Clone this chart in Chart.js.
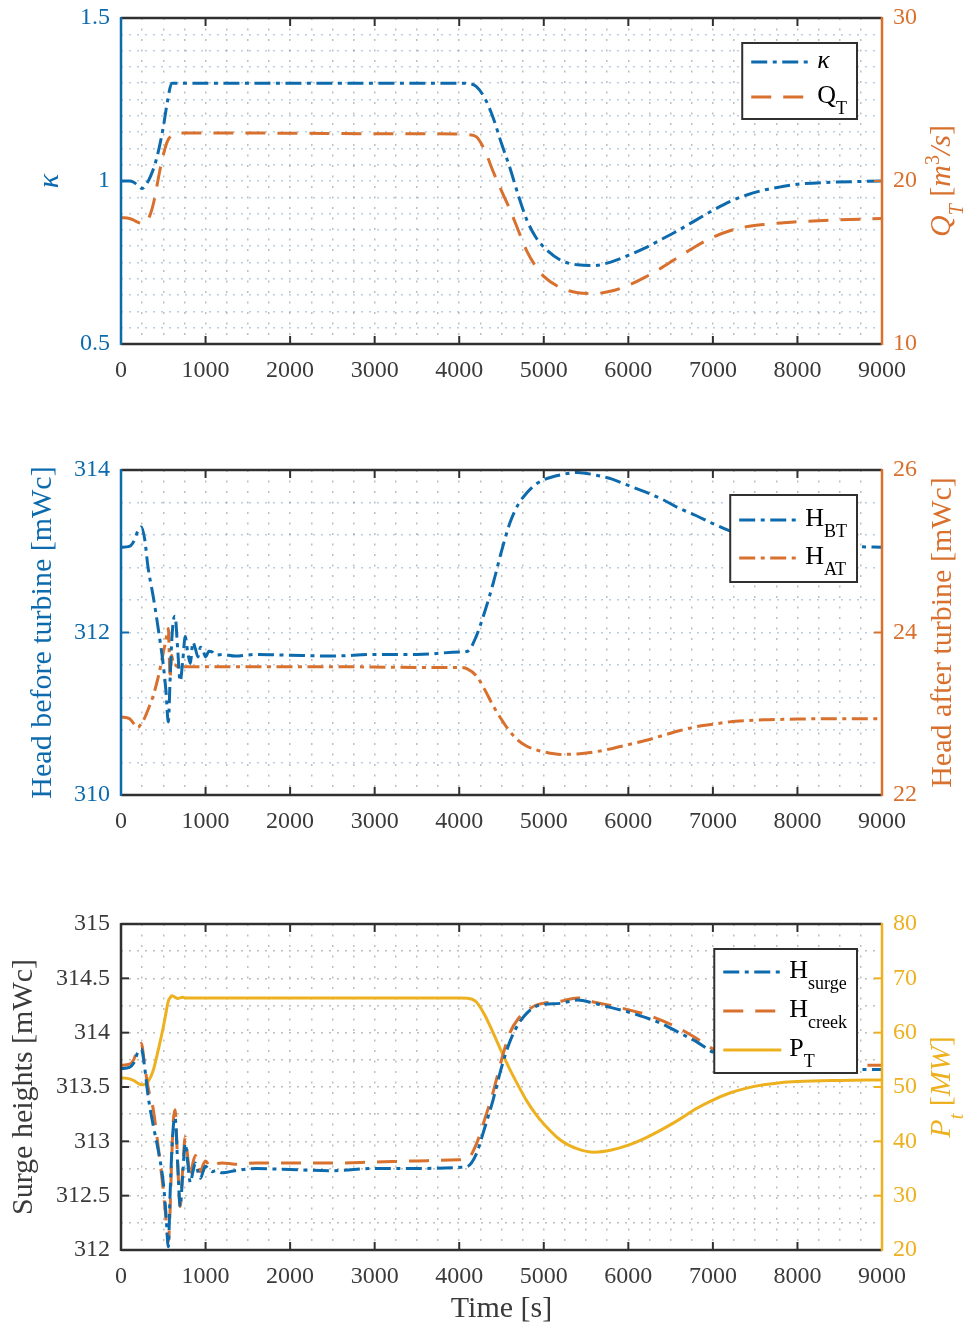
<!DOCTYPE html>
<html lang="en">
<head>
<meta charset="utf-8">
<title>Turbine transient</title>
<script src="https://cdn.jsdelivr.net/npm/chart.js@4.4.1/dist/chart.umd.min.js"></script>
<style>
  html, body { margin: 0; padding: 0; background: #ffffff; }
  body { position: relative; width: 964px; height: 1328px; overflow: hidden; }
  canvas { position: absolute; left: 0; }
</style>
</head>
<body>
<canvas id="chartKappa" width="964" height="400" style="top: 0px"></canvas>
<canvas id="chartHead" width="964" height="400" style="top: 450px"></canvas>
<canvas id="chartSurge" width="964" height="428" style="top: 900px"></canvas>
<script>
// time base for kappa and turbine flow [s]
var timeCoarse = [
  0, 100, 150, 200, 250, 300, 350, 400, 450, 500,
  550, 600, 650, 700, 1000, 2000, 3000, 4000, 4100, 4200,
  4300, 4400, 4500, 4600, 4700, 4800, 4900, 5000, 5200, 5400,
  5600, 5800, 6000, 6200, 6400, 6600, 6800, 7000, 7200, 7400,
  7600, 7800, 8000, 8400, 9000,
];
var kappa = [
  1.0, 1.0, 0.996, 0.986, 0.977, 0.99, 1.015, 1.05, 1.1, 1.165,
  1.245, 1.3, 1.3, 1.3, 1.3, 1.3, 1.3, 1.3, 1.299, 1.29,
  1.255, 1.195, 1.115, 1.04, 0.955, 0.88, 0.83, 0.797, 0.757, 0.743,
  0.741, 0.752, 0.772, 0.795, 0.822, 0.85, 0.88, 0.91, 0.937, 0.957,
  0.972, 0.982, 0.99, 0.996, 1.0,
];
var flowQT = [
  17.75, 17.7, 17.6, 17.47, 17.4, 17.5, 18.0, 19.0, 20.4, 21.6,
  22.45, 22.8, 22.93, 22.95, 22.95, 22.93, 22.9, 22.88, 22.85, 22.72,
  21.9, 20.6, 19.4, 18.25, 16.95, 15.7, 14.8, 14.15, 13.45, 13.15,
  13.1, 13.25, 13.6, 14.1, 14.7, 15.35, 16.0, 16.55, 16.95, 17.2,
  17.33, 17.42, 17.5, 17.6, 17.7,
];

// finer time base around the start-up oscillations [s]
var timeFine = [
  0, 100, 150, 200, 240, 280, 320, 380, 440, 500,
  530, 560, 580, 600, 620, 640, 670, 700, 730, 760,
  790, 820, 850, 880, 910, 940, 970, 1000, 1040, 1080,
  1120, 1200, 1350, 1600, 2000, 2500, 3000, 3500, 4000, 4100,
  4200, 4300, 4400, 4500, 4600, 4700, 4800, 4900, 5000, 5200,
  5400, 5600, 5800, 6000, 6200, 6400, 6600, 6800, 7000, 7200,
  7400, 7600, 7800, 8000, 8500, 9000,
];
var headBT = [
  313.05, 313.06, 313.12, 313.25, 313.3, 313.15, 312.8, 312.45, 312.05, 311.6,
  311.3, 310.9, 311.4, 311.9, 312.15, 312.2, 311.8, 311.4, 311.65, 311.95,
  311.75, 311.62, 311.88, 311.8, 311.7, 311.82, 311.78, 311.7, 311.77, 311.76,
  311.72, 311.73, 311.71, 311.73, 311.72, 311.71, 311.73, 311.73, 311.76, 311.77,
  311.95, 312.25, 312.6, 313.0, 313.35, 313.58, 313.72, 313.82, 313.88, 313.94,
  313.97, 313.94, 313.89, 313.81, 313.73, 313.64, 313.53, 313.44, 313.34, 313.25,
  313.18, 313.13, 313.1, 313.08, 313.06, 313.05,
];
var headAT = [
  22.96, 22.94, 22.88, 22.83, 22.88, 22.95, 23.05, 23.22, 23.45, 23.75,
  23.9, 24.05, 23.45, 23.72, 23.6, 23.6, 23.58, 23.58, 23.58, 23.58,
  23.58, 23.58, 23.58, 23.58, 23.58, 23.58, 23.58, 23.58, 23.58, 23.58,
  23.58, 23.58, 23.58, 23.58, 23.58, 23.58, 23.575, 23.57, 23.57, 23.55,
  23.47, 23.3, 23.1, 22.93, 22.78, 22.67, 22.6, 22.56, 22.53, 22.5,
  22.505, 22.53, 22.57, 22.62, 22.67, 22.73, 22.79, 22.84, 22.87, 22.9,
  22.915, 22.925, 22.93, 22.935, 22.94, 22.94,
];
var surgeH = [
  313.67, 313.68, 313.72, 313.82, 313.85, 313.68, 313.42, 313.15, 312.92, 312.62,
  312.35, 312.03, 312.5, 312.9, 313.15, 313.22, 312.8, 312.4, 312.7, 312.98,
  312.8, 312.62, 312.72, 312.8, 312.72, 312.66, 312.72, 312.77, 312.74, 312.72,
  312.73, 312.71, 312.73, 312.75, 312.74, 312.73, 312.75, 312.75, 312.76, 312.77,
  312.88, 313.12, 313.38, 313.68, 313.92, 314.08, 314.18, 314.24, 314.26, 314.27,
  314.3, 314.27, 314.23, 314.19, 314.14, 314.08, 314.0, 313.92, 313.82, 313.76,
  313.72, 313.7, 313.68, 313.67, 313.66, 313.66,
];
var creekH = [
  313.7, 313.71, 313.75, 313.86, 313.9, 313.7, 313.5, 313.3, 312.95, 312.55,
  312.3, 312.08, 312.35, 312.85, 313.2, 313.29, 312.8, 312.4, 312.75, 313.04,
  312.85, 312.67, 312.8, 312.87, 312.78, 312.72, 312.78, 312.82, 312.78, 312.76,
  312.79, 312.8, 312.79, 312.8, 312.8, 312.8, 312.81, 312.82, 312.83, 312.84,
  312.97, 313.2, 313.45, 313.75, 314.0, 314.13, 314.2, 314.25, 314.27, 314.29,
  314.32, 314.28, 314.25, 314.21, 314.17, 314.11, 314.04, 313.95, 313.85, 313.79,
  313.75, 313.73, 313.72, 313.71, 313.7, 313.7,
];
var turbinePower = [
  51.7, 51.5, 51.2, 50.7, 50.4, 50.5, 51.0, 53.0, 56.8, 61.0,
  63.5, 65.8, 66.4, 66.8, 66.7, 66.5, 66.3, 66.4, 66.5, 66.4,
  66.4, 66.4, 66.4, 66.4, 66.4, 66.4, 66.4, 66.4, 66.4, 66.4,
  66.4, 66.4, 66.4, 66.4, 66.4, 66.4, 66.4, 66.4, 66.4, 66.35,
  65.7, 63.3, 60.0, 56.5, 53.2, 50.2, 47.4, 45.1, 43.2, 40.2,
  38.6, 38.0, 38.4, 39.3, 40.6, 42.2, 44.0, 46.0, 47.6, 48.9,
  49.8, 50.4, 50.8, 51.0, 51.2, 51.3,
];

var BLUE = "#0C6AAD";
var ORANGE = "#D8702E";
var YELLOW = "#EDB120";
var DARK = "#303030";
var TEXT = "#3a3a3a";
var GRID_GRAY = "rgba(170,170,170,0.75)";
var GRID_BLUE = "rgba(80,130,190,0.4)";
var SERIF = "'Liberation Serif', 'DejaVu Serif', serif";
var DASH_DOT = [16, 5.5, 4, 5.5];
var DASHED = [20, 12];
var tickFont = { family: SERIF, size: 24 };

function points(time, values) {
  return time.map(function (t, i) {
    return { x: t, y: values[i] };
  });
}

function series(label, time, values, color, dash, axis, italic) {
  return {
    label: label,
    italicLabel: !!italic,
    data: points(time, values),
    yAxisID: axis,
    borderColor: color,
    borderWidth: 3,
    borderDash: dash,
    pointRadius: 0,
    fill: false,
    cubicInterpolationMode: "monotone",
  };
}

function xAxis(height) {
  return {
    type: "linear",
    min: 0,
    max: 9000,
    afterFit: function (scale) {
      scale.height = height;
      scale.paddingLeft = 0;
      scale.paddingRight = 0;
    },
    ticks: {
      stepSize: 250,
      autoSkip: false,
      maxRotation: 0,
      padding: 12,
      color: TEXT,
      font: tickFont,
      callback: function (v) {
        return v % 1000 === 0 ? String(v) : "";
      },
    },
    grid: { color: GRID_GRAY, lineWidth: 1.5, drawTicks: false },
    border: { display: false, dash: [2, 8.5] },
  };
}

function yAxis(side, min, max, step, every, color, gridColor) {
  return {
    type: "linear",
    position: side,
    min: min,
    max: max,
    afterFit: function (scale) {
      scale.width = side === "left" ? 121 : 82;
      scale.paddingTop = 0;
      scale.paddingBottom = 0;
    },
    ticks: {
      stepSize: step,
      autoSkip: false,
      padding: 11,
      color: color,
      font: tickFont,
      callback: function (v) {
        var k = v / every;
        return Math.abs(k - Math.round(k)) < 1e-6 ? String(v) : "";
      },
    },
    grid: gridColor
      ? { color: gridColor, lineWidth: 1.5, drawTicks: false }
      : { display: false, drawTicks: false },
    border: { display: false, dash: [2, 6] },
  };
}

// text made of runs (italic, subscript, superscript) measured before drawing
function textRuns(ctx, parts, size) {
  var width = 0;
  var runs = parts.map(function (p) {
    var small = p.sub || p.sup;
    var font = (p.it ? "italic " : "") + Math.round(small ? size * 0.68 : size) + "px " + SERIF;
    ctx.font = font;
    var w = ctx.measureText(p.t).width;
    width += w;
    return { p: p, font: font, w: w };
  });
  return { runs: runs, width: width, size: size };
}

function drawRuns(ctx, text, x, y, color, centred, angle) {
  ctx.save();
  ctx.translate(x, y);
  if (angle) ctx.rotate(angle);
  ctx.fillStyle = color;
  ctx.textAlign = "left";
  ctx.textBaseline = "alphabetic";
  var cx = centred ? -text.width / 2 : 0;
  var base = text.size * 0.33;
  text.runs.forEach(function (r) {
    var dy = r.p.sub ? text.size * 0.42 : r.p.sup ? -text.size * 0.38 : 0;
    ctx.font = r.font;
    ctx.fillText(r.p.t, cx, base + dy);
    cx += r.w;
  });
  ctx.restore();
}

function labelParts(label, italic) {
  var bits = label.split("_");
  var parts = [{ t: bits[0], it: italic }];
  if (bits[1]) parts.push({ t: bits[1], it: italic, sub: true });
  return parts;
}

function segment(ctx, x1, y1, x2, y2) {
  ctx.beginPath();
  ctx.moveTo(x1, y1);
  ctx.lineTo(x2, y2);
  ctx.stroke();
}

// box, inward ticks, axis titles and legend drawn over the plot
var axesFrame = {
  id: "axesFrame",
  afterDraw: function (chart, args, opts) {
    var ctx = chart.ctx;
    var area = chart.chartArea;
    var sx = chart.scales.x;
    var yL = chart.scales.yL;
    var yR = chart.scales.yR;
    var TICK = 8;

    ctx.save();
    ctx.setLineDash([]);
    ctx.lineWidth = 2;
    ctx.strokeStyle = DARK;
    sx.ticks.forEach(function (t) {
      if (!t.label) return;
      var px = sx.getPixelForValue(t.value);
      segment(ctx, px, area.bottom, px, area.bottom - TICK);
      segment(ctx, px, area.top, px, area.top + TICK);
    });
    ctx.strokeStyle = opts.leftColor;
    yL.ticks.forEach(function (t) {
      if (!t.label) return;
      var py = yL.getPixelForValue(t.value);
      segment(ctx, area.left, py, area.left + TICK, py);
    });
    ctx.strokeStyle = opts.rightColor;
    yR.ticks.forEach(function (t) {
      if (!t.label) return;
      var py = yR.getPixelForValue(t.value);
      segment(ctx, area.right, py, area.right - TICK, py);
    });

    ctx.lineWidth = 2.5;
    ctx.strokeStyle = DARK;
    segment(ctx, area.left, area.top, area.right, area.top);
    segment(ctx, area.left, area.bottom, area.right, area.bottom);
    ctx.strokeStyle = opts.leftColor;
    segment(ctx, area.left, area.top - 1, area.left, area.bottom + 1);
    ctx.strokeStyle = opts.rightColor;
    segment(ctx, area.right, area.top - 1, area.right, area.bottom + 1);

    var midY = (area.top + area.bottom) / 2;
    drawRuns(ctx, textRuns(ctx, opts.leftTitle.parts, 30), opts.leftTitle.x, midY,
      opts.leftTitle.color, true, -Math.PI / 2);
    drawRuns(ctx, textRuns(ctx, opts.rightTitle.parts, 30), opts.rightTitle.x, midY,
      opts.rightTitle.color, true, -Math.PI / 2);
    if (opts.xTitle) {
      drawRuns(ctx, textRuns(ctx, opts.xTitle.parts, 30), (area.left + area.right) / 2,
        opts.xTitle.y, TEXT, true, 0);
    }

    // legend box in the upper right corner
    var lg = opts.legend;
    var items = chart.data.datasets.map(function (ds) {
      return { ds: ds, text: textRuns(ctx, labelParts(ds.label, ds.italicLabel), 26) };
    });
    var textW = Math.max.apply(null, items.map(function (it) { return it.text.width; }));
    var boxW = 9 + 58 + 8 + textW + 10;
    var boxH = lg.padTop + (items.length - 1) * lg.rowH + lg.padBottom;
    var bx = area.right - 25 - boxW;
    var by = area.top + 25;
    ctx.fillStyle = "#ffffff";
    ctx.fillRect(bx, by, boxW, boxH);
    ctx.lineWidth = 2;
    ctx.strokeStyle = DARK;
    ctx.strokeRect(bx, by, boxW, boxH);
    items.forEach(function (it, i) {
      var ry = by + lg.padTop + i * lg.rowH;
      ctx.save();
      ctx.setLineDash(it.ds.borderDash || []);
      ctx.strokeStyle = it.ds.borderColor;
      ctx.lineWidth = it.ds.borderWidth;
      segment(ctx, bx + 9, ry, bx + 67, ry);
      ctx.restore();
      drawRuns(ctx, it.text, bx + 75, ry - 3, "#000000", false, 0);
    });
    ctx.restore();
  },
};

function baseOptions(top, xHeight, yLeft, yRight, frame) {
  return {
    responsive: false,
    animation: false,
    events: [],
    layout: { padding: { top: top, left: 0, right: 0, bottom: 0 } },
    scales: { x: xAxis(xHeight), yL: yLeft, yR: yRight },
    plugins: {
      legend: { display: false },
      tooltip: { enabled: false },
      axesFrame: frame,
    },
  };
}

document.addEventListener("DOMContentLoaded", function () {
  var ctx1 = document.getElementById("chartKappa").getContext("2d");
  var chartKappa = new Chart(ctx1, {
    type: "line",
    data: {
      datasets: [
        series("κ", timeCoarse, kappa, BLUE, DASH_DOT, "yL", true),
        series("Q_T", timeCoarse, flowQT, ORANGE, DASHED, "yR"),
      ],
    },
    options: baseOptions(
      18, 56,
      yAxis("left", 0.5, 1.5, 0.05, 0.5, BLUE, GRID_BLUE),
      yAxis("right", 10, 30, 10, 10, ORANGE, null),
      {
        leftColor: BLUE,
        rightColor: ORANGE,
        leftTitle: { parts: [{ t: "κ", it: true }], x: 48, color: BLUE },
        rightTitle: {
          parts: [
            { t: "Q", it: true }, { t: "T", it: true, sub: true }, { t: " [" },
            { t: "m", it: true }, { t: "3", sup: true }, { t: "/s", it: true }, { t: "]" },
          ],
          x: 940,
          color: ORANGE,
        },
        legend: { rowH: 35, padTop: 19, padBottom: 22 },
      }
    ),
    plugins: [axesFrame],
  });

  var ctx2 = document.getElementById("chartHead").getContext("2d");
  var chartHead = new Chart(ctx2, {
    type: "line",
    data: {
      datasets: [
        series("H_BT", timeFine, headBT, BLUE, DASH_DOT, "yL"),
        series("H_AT", timeFine, headAT, ORANGE, DASH_DOT, "yR"),
      ],
    },
    options: baseOptions(
      20, 55,
      yAxis("left", 310, 314, 0.4, 2, BLUE, GRID_BLUE),
      yAxis("right", 22, 26, 2, 2, ORANGE, null),
      {
        leftColor: BLUE,
        rightColor: ORANGE,
        leftTitle: { parts: [{ t: "Head before turbine [mWc]" }], x: 41, color: BLUE },
        rightTitle: { parts: [{ t: "Head after turbine [mWc]" }], x: 941, color: ORANGE },
        legend: { rowH: 38, padTop: 25, padBottom: 24 },
      }
    ),
    plugins: [axesFrame],
  });

  var ctx3 = document.getElementById("chartSurge").getContext("2d");
  var chartSurge = new Chart(ctx3, {
    type: "line",
    data: {
      datasets: [
        series("H_surge", timeFine, surgeH, BLUE, DASH_DOT, "yL"),
        series("H_creek", timeFine, creekH, ORANGE, DASHED, "yL"),
        series("P_T", timeFine, turbinePower, YELLOW, [], "yR"),
      ],
    },
    options: baseOptions(
      24, 78,
      yAxis("left", 312, 315, 0.25, 0.5, TEXT, GRID_GRAY),
      yAxis("right", 20, 80, 10, 10, YELLOW, null),
      {
        leftColor: DARK,
        rightColor: YELLOW,
        leftTitle: { parts: [{ t: "Surge heights [mWc]" }], x: 22, color: TEXT },
        rightTitle: {
          parts: [
            { t: "P", it: true }, { t: "t", it: true, sub: true }, { t: " [" },
            { t: "MW", it: true }, { t: "]" },
          ],
          x: 940,
          color: YELLOW,
        },
        xTitle: { parts: [{ t: "Time [s]" }], y: 407 },
        legend: { rowH: 39, padTop: 23, padBottom: 23 },
      }
    ),
    plugins: [axesFrame],
  });
});
</script>
</body>
</html>
